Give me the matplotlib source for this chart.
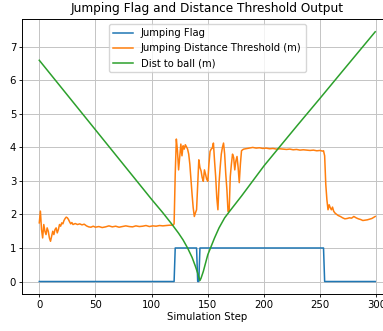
import matplotlib
matplotlib.use("Agg")
from matplotlib import pyplot as plt

# Jumping flag (0/1) per simulation step
flag_steps = [0, 120, 121, 140, 141, 142, 143, 253, 254, 299]
flag_values = [0, 0, 1, 1, 0, 0, 1, 1, 0, 0]

# Jumping distance threshold (m)
thr_steps = [
    0, 1, 2, 3, 4, 5, 6, 7, 8, 9, 10, 11, 12, 13, 14, 15, 16, 17, 18, 19,
    20, 21, 22, 23, 24, 25, 26, 27, 28, 29, 30, 32, 34, 36, 38, 40, 42, 44,
    46, 48, 50, 53, 56, 59, 62, 65, 68, 71, 74, 77, 80, 83, 86, 89, 92, 95,
    98, 101, 104, 107, 110, 113, 116, 119, 120, 121, 122, 123, 124, 125,
    126, 127, 128, 129, 130, 131, 132, 133, 134, 135, 136, 137, 138, 139,
    140, 141, 142, 143, 144, 145, 146, 147, 148, 149, 150, 151, 152, 153,
    154, 155, 156, 157, 158, 159, 160, 161, 162, 163, 164, 165, 166, 167,
    168, 169, 170, 171, 172, 173, 174, 175, 176, 177, 178, 179, 180, 181,
    182, 185, 188, 190, 193, 196, 199, 202, 205, 208, 211, 214, 217, 220,
    223, 226, 229, 232, 235, 238, 241, 244, 247, 250, 252, 253, 254, 255,
    256, 257, 258, 259, 260, 261, 262, 263, 264, 266, 268, 270, 272, 274,
    276, 278, 280, 282, 284, 286, 288, 290, 292, 294, 296, 298, 299,
]
thr_values = [
    1.75, 2.10, 1.55, 1.30, 1.70, 1.50, 1.40, 1.60, 1.50, 1.30, 1.20, 1.35,
    1.50, 1.40, 1.55, 1.60, 1.45, 1.55, 1.70, 1.65, 1.75, 1.72, 1.82, 1.88,
    1.92, 1.90, 1.85, 1.78, 1.72, 1.76, 1.70, 1.73, 1.70, 1.72, 1.69, 1.71,
    1.66, 1.63, 1.62, 1.65, 1.62, 1.64, 1.61, 1.63, 1.66, 1.63, 1.65, 1.62,
    1.64, 1.66, 1.64, 1.63, 1.66, 1.64, 1.65, 1.67, 1.64, 1.66, 1.65, 1.67,
    1.66, 1.67, 1.68, 1.68, 1.72, 3.20, 4.25, 3.90, 3.33, 3.70, 4.10, 3.75,
    4.05, 3.95, 4.08, 4.02, 3.95, 3.80, 3.50, 3.05, 2.60, 2.20, 1.94, 2.05,
    2.14, 2.90, 3.63, 3.40, 3.30, 3.10, 2.99, 3.33, 3.20, 3.05, 2.99, 3.50,
    3.88, 3.95, 3.98, 4.13, 3.60, 3.13, 2.50, 2.14, 2.94, 3.40, 3.80, 4.00,
    4.13, 3.80, 3.20, 2.74, 2.09, 2.10, 3.13, 3.50, 3.80, 3.70, 3.33, 3.60,
    3.73, 3.40, 2.95, 3.50, 3.90, 3.93, 3.95, 3.97, 3.99, 4.00, 3.98, 3.99,
    3.97, 3.98, 3.96, 3.97, 3.95, 3.96, 3.95, 3.94, 3.95, 3.93, 3.94, 3.92,
    3.93, 3.92, 3.91, 3.92, 3.90, 3.91, 3.89, 3.90, 3.75, 2.90, 2.44, 2.14,
    2.29, 2.20, 2.14, 2.22, 2.10, 2.05, 2.02, 1.97, 1.94, 1.90, 1.87, 1.88,
    1.90, 1.89, 1.94, 1.90, 1.87, 1.85, 1.82, 1.83, 1.84, 1.86, 1.88, 1.92,
    1.94,
]

# Distance to ball (m)
dist_steps = [0, 20, 40, 60, 80, 100, 110, 118, 124, 128, 132, 136, 139,
              141, 143, 144, 146, 148, 150, 153, 156, 160, 165, 170, 180,
              190, 200, 213, 230, 250, 270, 299]
dist_values = [6.60, 5.77, 4.94, 4.11, 3.28, 2.45, 2.05, 1.71, 1.44, 1.24,
               1.00, 0.72, 0.45, 0.25, 0.03, 0.10, 0.30, 0.55, 0.80, 1.05,
               1.30, 1.60, 1.90, 2.12, 2.55, 3.00, 3.45, 3.98, 4.67, 5.47,
               6.28, 7.45]

fig = plt.figure(figsize=(3.83, 3.31), dpi=100)
# the source picture was cropped on the right, so the axes run past the edge
ax = fig.add_axes([0.0587, 0.1118, 0.9648, 0.8299])

lw = 1.1
ax.plot(flag_steps, flag_values, color="tab:blue", lw=lw, label="Jumping Flag")
ax.plot(thr_steps, thr_values, color="tab:orange", lw=lw,
        label="Jumping Distance Threshold (m)")
ax.plot(dist_steps, dist_values, color="tab:green", lw=lw, label="Dist to ball (m)")

ax.set_xticks([0, 50, 100, 150, 200, 250, 300])
ax.set_yticks(range(0, 8))
ax.tick_params(labelsize=7.3, length=2.5, width=0.6, pad=2)
ax.grid(True, color="#c4c4c4", lw=0.7)
for s in ax.spines.values():
    s.set_linewidth(0.7)

ax.set_xlabel("Simulation Step", fontsize=7.3, labelpad=1)
ax.set_title("Jumping Flag and Distance Threshold Output", fontsize=8.7, pad=5)
ax.legend(loc="upper center", fontsize=7.2, framealpha=0.8)

fig.savefig("out.png", dpi=100)
